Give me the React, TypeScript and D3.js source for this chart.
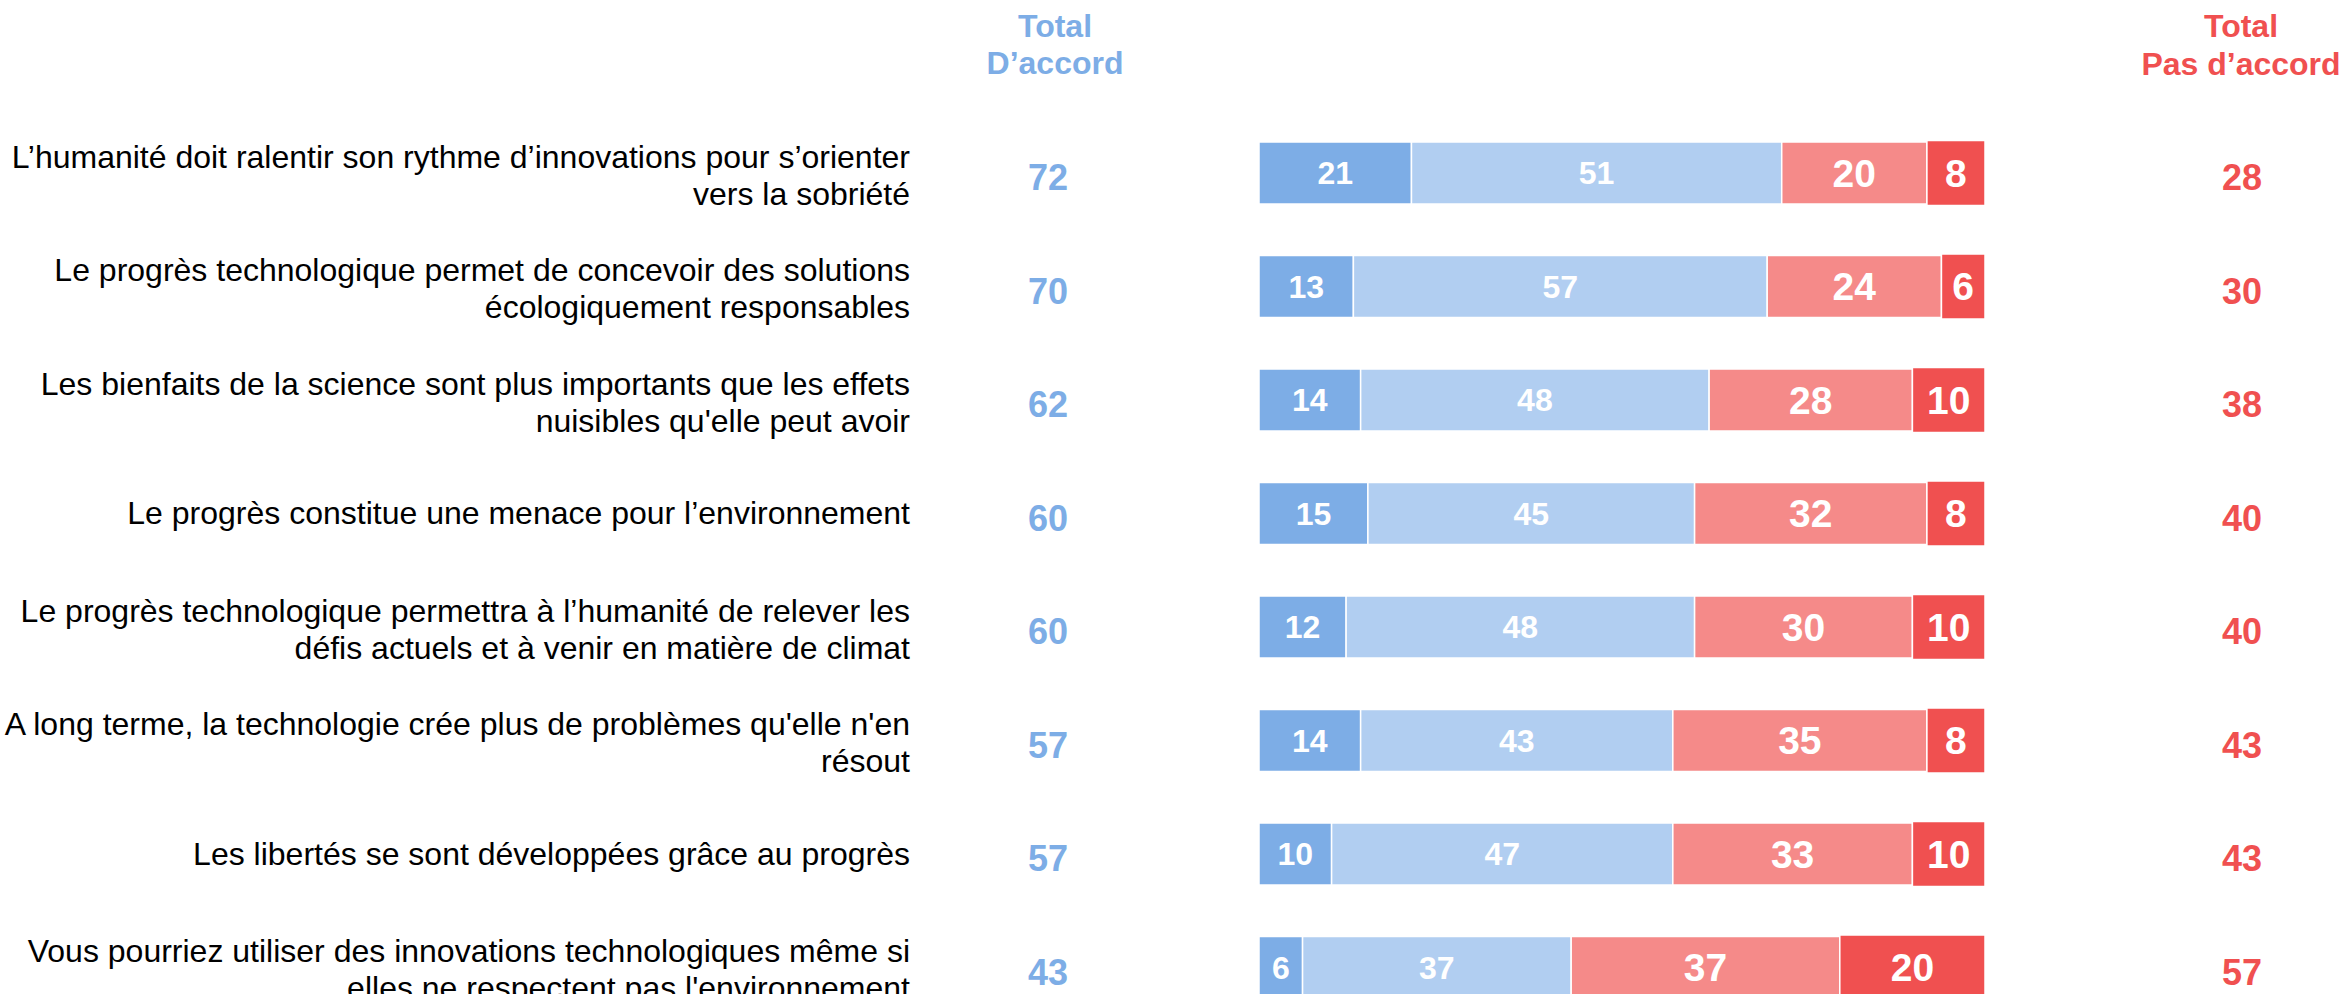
import React from "react";
import * as d3 from "d3";

const W = 2344;
const H = 994;

const statements: string[][] = [
  ["L’humanité doit ralentir son rythme d’innovations pour s’orienter", "vers la sobriété"],
  ["Le progrès technologique permet de concevoir des solutions", "écologiquement responsables"],
  ["Les bienfaits de la science sont plus importants que les effets", "nuisibles qu'elle peut avoir"],
  ["Le progrès constitue une menace pour l’environnement"],
  ["Le progrès technologique permettra à l’humanité de relever les", "défis actuels et à venir en matière de climat"],
  ["A long terme, la technologie crée plus de problèmes qu'elle n'en", "résout"],
  ["Les libertés se sont développées grâce au progrès"],
  ["Vous pourriez utiliser des innovations technologiques même si", "elles ne respectent pas l'environnement"],
];

const toutAFait = [21, 13, 14, 15, 12, 14, 10, 6];
const plutotOui = [51, 57, 48, 45, 48, 43, 47, 37];
const plutotNon = [20, 24, 28, 32, 30, 35, 33, 37];
const pasDuTout = [8, 6, 10, 8, 10, 8, 10, 20];
const totalAccord = [72, 70, 62, 60, 60, 57, 57, 43];
const totalPasAccord = [28, 30, 38, 40, 40, 43, 43, 57];

const seriesValues = [toutAFait, plutotOui, plutotNon, pasDuTout];
const seriesColors = ["#7DADE6", "#B1CEF1", "#F58A89", "#F05050"];
const seriesFont = [32, 32, 39, 39];
const headerAccord = ["Total", "D’accord"];
const headerPasAccord = ["Total", "Pas d’accord"];

const BLUE = "#7DADE6";
const RED = "#F05050";
const FONT = "'Liberation Sans', Arial, Helvetica, sans-serif";

export default function App() {
  const x = d3.scaleLinear().domain([0, 100]).range([1259, 1985]);
  const y = d3
    .scalePoint<number>()
    .domain(d3.range(statements.length))
    .range([173, 967.5]);
  const barH = 62;

  const stacks = statements.map((_, i) => {
    let acc = 0;
    return seriesValues.map((s, k) => {
      const x0 = acc;
      acc += s[i];
      return { k, v: s[i], x0, x1: acc };
    });
  });

  return (
    <svg
      width={W}
      height={H}
      style={{ position: "absolute", left: 0, top: 0, display: "block", background: "#fff" }}
      fontFamily={FONT}
    >
      {/* headers */}
      {headerAccord.map((t, j) => (
        <text key={"ha" + j} x={1055} y={37 + j * 37} textAnchor="middle" fontSize={32} fontWeight="bold" fill={BLUE}>
          {t}
        </text>
      ))}
      {headerPasAccord.map((t, j) => (
        <text key={"hp" + j} x={2241} y={37 + j * 37.5} textAnchor="middle" fontSize={32} fontWeight="bold" fill={RED}>
          {t}
        </text>
      ))}

      {statements.map((lines, i) => {
        const cy = y(i) as number;
        return (
          <g key={i}>
            {lines.map((ln, j) => {
              const by = lines.length === 1 ? cy + 10.5 : cy - 5.5 + j * 37.2;
              return (
                <text key={j} x={910} y={by} textAnchor="end" fontSize={32} fill="#000">
                  {ln}
                </text>
              );
            })}
            <text x={1048} y={cy + 17} textAnchor="middle" fontSize={36} fontWeight="bold" fill={BLUE}>
              {totalAccord[i]}
            </text>
            <text x={2242} y={cy + 17} textAnchor="middle" fontSize={36} fontWeight="bold" fill={RED}>
              {totalPasAccord[i]}
            </text>
            {stacks[i].map((seg) => {
              const extra = seg.k === 3 ? 1.5 : 0;
              return (
                <rect
                  key={"r" + seg.k}
                  x={x(seg.x0)}
                  y={cy - barH / 2 - extra}
                  width={x(seg.x1) - x(seg.x0)}
                  height={barH + extra * 2}
                  fill={seriesColors[seg.k]}
                  stroke="#fff"
                  strokeWidth={1.5}
                />
              );
            })}
            {stacks[i].map((seg) => (
              <text
                key={"t" + seg.k}
                x={(x(seg.x0) + x(seg.x1)) / 2}
                y={cy + seriesFont[seg.k] * 0.358}
                textAnchor="middle"
                fontSize={seriesFont[seg.k]}
                fontWeight="bold"
                fill="#fff"
              >
                {seg.v}
              </text>
            ))}
          </g>
        );
      })}
    </svg>
  );
}
